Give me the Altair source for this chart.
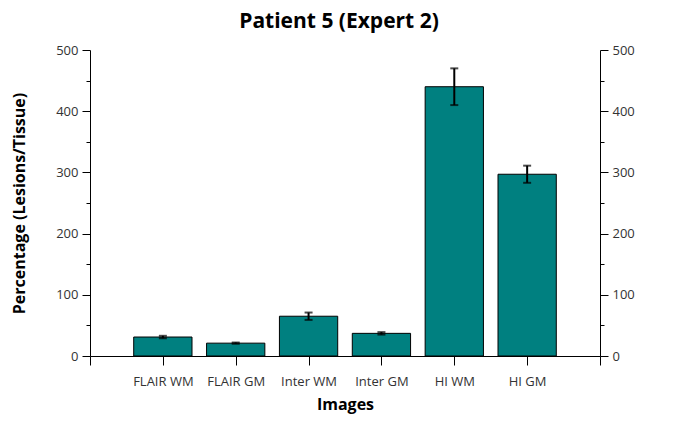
import altair as alt
import pandas as pd

categories = ["FLAIR WM", "FLAIR GM", "Inter WM", "Inter GM", "HI WM", "HI GM"]
values = [31, 21, 65, 37, 440, 297]
errors = [2, 1, 6, 2, 30, 14]

pos = list(range(1, len(categories) + 1))
df = pd.DataFrame({
    "cat": categories,
    "pos": pos,
    "x0": [p - 0.4 for p in pos],
    "x1": [p + 0.4 for p in pos],
    "val": values,
    "lo": [v - e for v, e in zip(values, errors)],
    "hi": [v + e for v, e in zip(values, errors)],
})

FONT = "Open Sans"
xscale = alt.Scale(domain=[0, 7], nice=False, zero=False)
yscale = alt.Scale(domain=[0, 500], nice=False)

label_expr = "[" + ",".join(["''"] + ["'" + c + "'" for c in categories] + ["''"]) + "][datum.value]"

x_axis = alt.Axis(values=list(range(0, 8)), labelExpr=label_expr, title="Images",
                  grid=False, tickSize=9, labelPadding=10, labelFontSize=13,
                  labelColor="#333333", titleFontSize=16, titleFontWeight="bold",
                  titlePadding=8, domainColor="black", tickColor="black",
                  labelFont=FONT, titleFont=FONT, titleColor="black")

base = alt.Chart(df)


def ghost(axis):
    return base.mark_bar(opacity=0).encode(
        x=alt.X("x0:Q", scale=xscale, axis=None),
        x2="x1:Q",
        y=alt.Y("val:Q", scale=yscale, axis=axis),
        y2=alt.datum(0),
    )


bars = base.mark_bar(color="#008080", stroke="black", strokeWidth=1).encode(
    x=alt.X("x0:Q", scale=xscale, axis=x_axis),
    x2="x1:Q",
    y=alt.Y("val:Q", scale=yscale,
            axis=alt.Axis(values=[0, 100, 200, 300, 400, 500], title="Percentage (Lesions/Tissue)",
                          grid=False, tickSize=8, labelPadding=4, labelFontSize=13,
                          labelColor="#333333", titleFontSize=16, titleFontWeight="bold",
                          titlePadding=28, domainColor="black", tickColor="black",
                          labelFont=FONT, titleFont=FONT, titleColor="black", orient="left")),
    y2=alt.datum(0),
)

minor_left = ghost(alt.Axis(values=[50, 150, 250, 350, 450], labels=False, title=None,
                            grid=False, tickSize=4, domain=False, tickColor="black",
                            orient="left"))
right_major = ghost(alt.Axis(values=[0, 100, 200, 300, 400, 500], title=None,
                             grid=False, tickSize=8, labelPadding=4, labelFontSize=13,
                             labelColor="#333333", domainColor="black", tickColor="black",
                             labelFont=FONT, orient="right"))
minor_right = ghost(alt.Axis(values=[50, 150, 250, 350, 450], labels=False, title=None,
                             grid=False, tickSize=4, domain=False, tickColor="black",
                             orient="right"))

err = base.mark_rule(color="black", strokeWidth=2).encode(
    x=alt.X("pos:Q", scale=xscale, axis=None),
    y=alt.Y("lo:Q", scale=yscale, axis=None),
    y2="hi:Q",
)
cap_hi = base.mark_tick(color="black", thickness=2, size=8, orient="horizontal").encode(
    x=alt.X("pos:Q", scale=xscale, axis=None),
    y=alt.Y("hi:Q", scale=yscale, axis=None),
)
cap_lo = base.mark_tick(color="black", thickness=2, size=8, orient="horizontal").encode(
    x=alt.X("pos:Q", scale=xscale, axis=None),
    y=alt.Y("lo:Q", scale=yscale, axis=None),
)

chart = alt.layer(bars, minor_left, right_major, minor_right, err, cap_hi, cap_lo).resolve_axis(
    x="independent", y="independent"
).properties(
    width=510,
    height=306,
    title=alt.TitleParams("Patient 5 (Expert 2)", fontSize=21, fontWeight="bold", font=FONT,
                          anchor="middle", dx=-6, offset=12, color="black"),
    autosize=alt.AutoSizeParams(type="none"),
    padding={"left": 82, "top": 42, "right": 70, "bottom": 62},
).configure_view(stroke=None)

chart.save("out.html", embed_options={"renderer": "svg", "actions": False})
